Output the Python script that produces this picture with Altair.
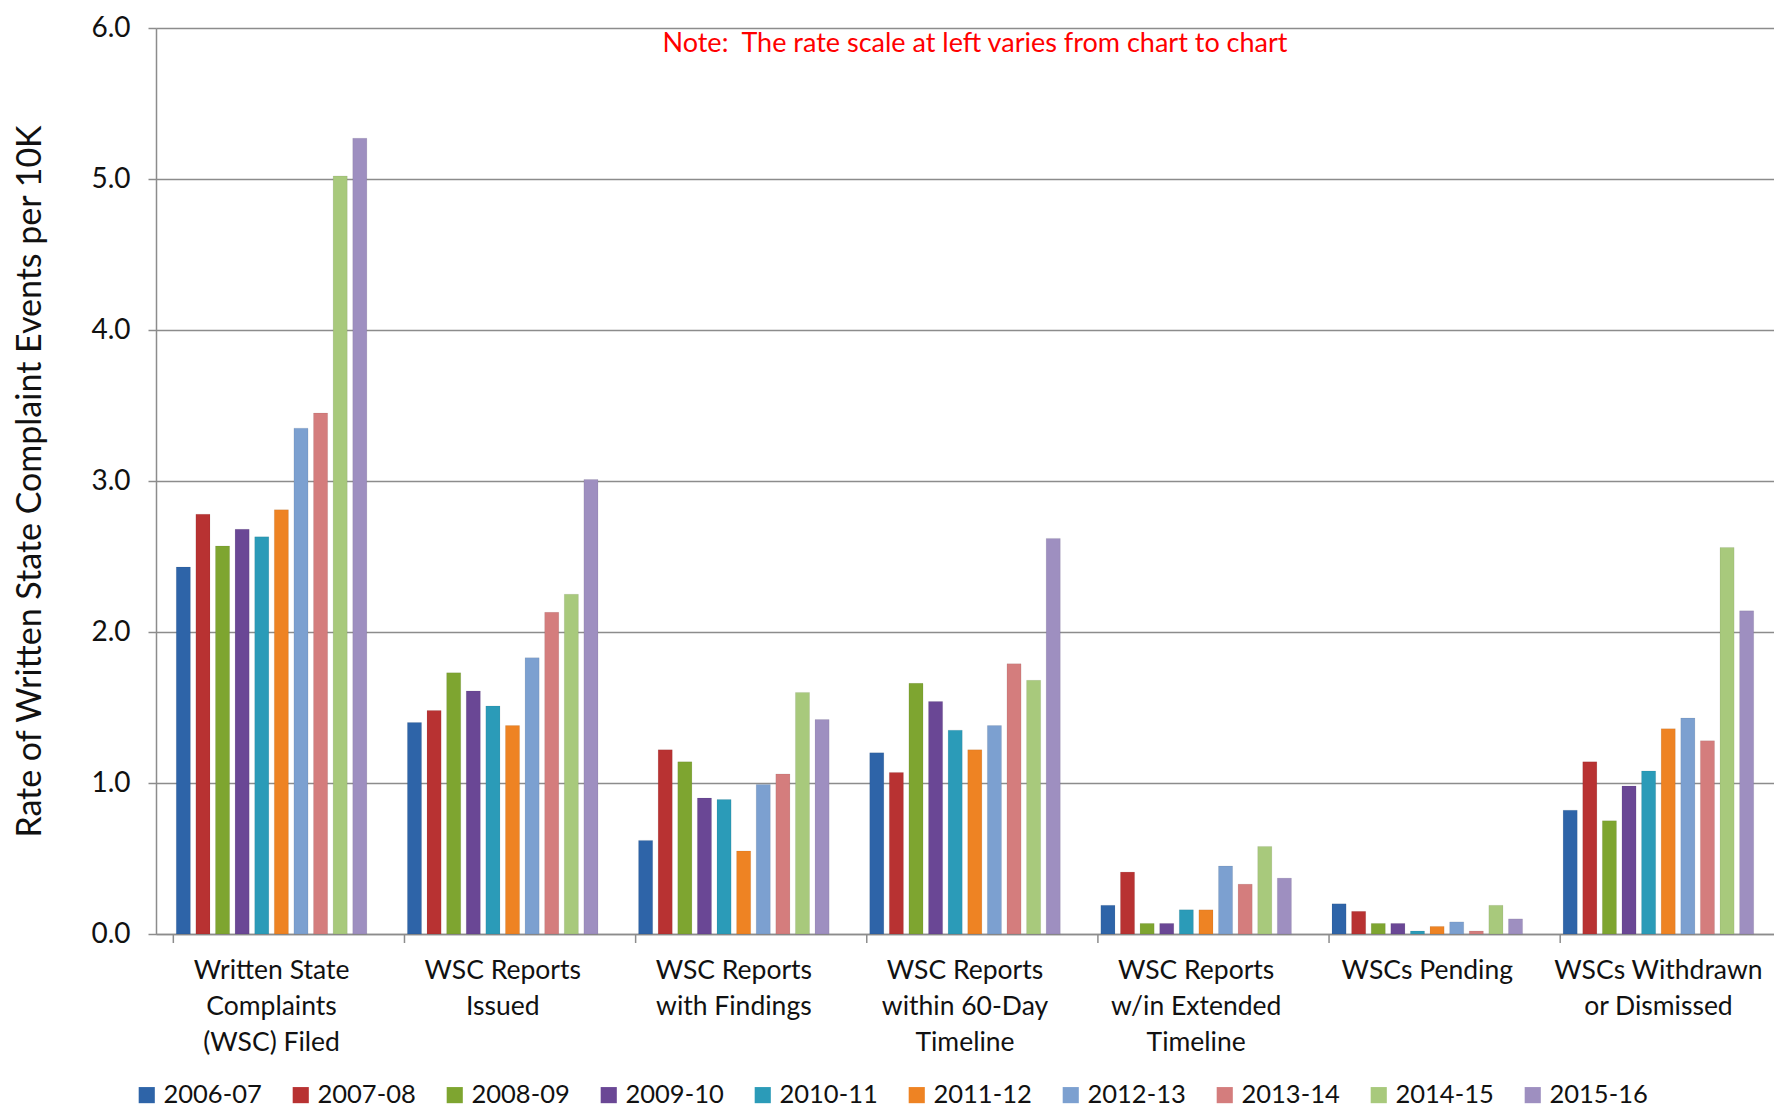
import altair as alt
import pandas as pd

categories = [
    "Written State|Complaints|(WSC) Filed",
    "WSC Reports|Issued",
    "WSC Reports|with Findings",
    "WSC Reports|within 60-Day|Timeline",
    "WSC Reports|w/in Extended|Timeline",
    "WSCs Pending",
    "WSCs Withdrawn|or Dismissed",
]
years = ["2006-07", "2007-08", "2008-09", "2009-10", "2010-11",
         "2011-12", "2012-13", "2013-14", "2014-15", "2015-16"]
colors = ["#2E64A8", "#B83232", "#7EA530", "#6A4795", "#2B9BB8",
          "#EE8323", "#7CA0D0", "#D47D7D", "#A8C97C", "#9E8FC0"]

wsc_filed      = [2.43, 2.78, 2.57, 2.68, 2.63, 2.81, 3.35, 3.45, 5.02, 5.27]
reports_issued = [1.40, 1.48, 1.73, 1.61, 1.51, 1.38, 1.83, 2.13, 2.25, 3.01]
with_findings  = [0.62, 1.22, 1.14, 0.90, 0.89, 0.55, 0.99, 1.06, 1.60, 1.42]
within_60      = [1.20, 1.07, 1.66, 1.54, 1.35, 1.22, 1.38, 1.79, 1.68, 2.62]
extended       = [0.19, 0.41, 0.07, 0.07, 0.16, 0.16, 0.45, 0.33, 0.58, 0.37]
pending        = [0.20, 0.15, 0.07, 0.07, 0.02, 0.05, 0.08, 0.02, 0.19, 0.10]
withdrawn      = [0.82, 1.14, 0.75, 0.98, 1.08, 1.36, 1.43, 1.28, 2.56, 2.14]

series = [wsc_filed, reports_issued, with_findings, within_60, extended, pending, withdrawn]

rows = []
for cat, vals in zip(categories, series):
    for yr, v in zip(years, vals):
        rows.append({"category": cat, "year": yr, "value": v})
df = pd.DataFrame(rows)

FONT = "Lato"
W, H = 1618, 906

x_enc = alt.X(
    "category:N", sort=categories, title=None,
    scale=alt.Scale(paddingInner=0.15, paddingOuter=0.075),
    axis=alt.Axis(
        labelExpr="split(datum.label, '|')", labelAngle=0, ticks=False,
        domain=True, domainColor="#8C8C8C", domainWidth=1.5,
        labelFontSize=26.5, labelFont=FONT, labelColor="#111111",
        labelPadding=23, labelLineHeight=36, labelLimit=400,
        labelBaseline="top",
    ),
)

bars = alt.Chart(df).mark_bar(stroke="#00000022", strokeWidth=0.5).encode(
    x=x_enc,
    xOffset=alt.XOffset("year:N", sort=years,
                        scale=alt.Scale(paddingInner=0.28, paddingOuter=0.15)),
    y=alt.Y(
        "value:Q", title="Rate of Written State Complaint Events per 10K",
        scale=alt.Scale(domain=[0, 6]),
        axis=alt.Axis(
            values=[0, 1, 2, 3, 4, 5, 6], format=".1f",
            grid=True, gridColor="#8C8C8C", gridWidth=1.5,
            domainColor="#8C8C8C", domainWidth=1.5,
            tickColor="#8C8C8C", tickSize=8, tickWidth=1.5,
            labelFontSize=28, labelFont=FONT, labelColor="#111111",
            labelPadding=18,
            titleFontSize=34, titleFont=FONT, titleFontWeight="normal",
            titleColor="#111111", titlePadding=43,
        ),
    ),
    color=alt.Color(
        "year:N", sort=years,
        scale=alt.Scale(domain=years, range=colors),
        legend=alt.Legend(
            title=None, orient="none", direction="horizontal", columns=10,
            legendX=-22, legendY=1054,
            symbolType="square", symbolSize=260, symbolStrokeWidth=0,
            labelFontSize=25.5, labelFont=FONT, labelColor="#111111",
            labelOffset=4, columnPadding=26,
        ),
    ),
)

ticks_df = pd.DataFrame({"category": categories})
xticks = alt.Chart(ticks_df).mark_rule(color="#8C8C8C", strokeWidth=1.5).encode(
    x=alt.X("category:N", sort=categories, bandPosition=0),
    y=alt.value(H),
    y2=alt.value(H + 9),
)

note = alt.Chart(pd.DataFrame({"t": ["Note:\u00a0\u00a0The rate scale at left varies from chart to chart"]})).mark_text(
    color="#FF0000", fontSize=27, font=FONT, align="center", baseline="middle"
).encode(
    text="t:N",
    x=alt.value(819),
    y=alt.value(16),
)

chart = alt.layer(bars, xticks, note).properties(
    width=W, height=H, padding={"left": 5, "top": 6, "right": 0, "bottom": 0}
).configure_view(stroke=None).configure(background="white")

chart.save("out.html", embed_options={"renderer": "svg", "actions": False})
